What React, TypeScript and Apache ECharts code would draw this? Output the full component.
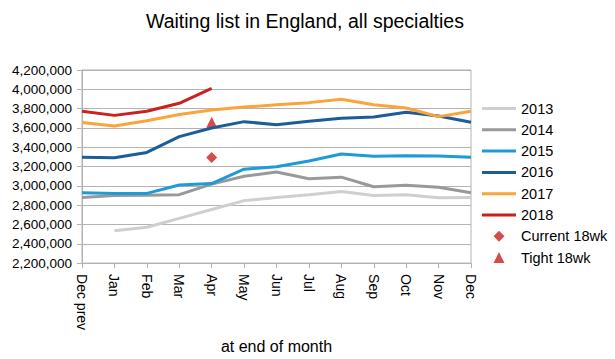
import React, { useEffect, useRef } from "react";
import * as echarts from "echarts";

const categories = ["Dec prev", "Jan", "Feb", "Mar", "Apr", "May", "Jun", "Jul", "Aug", "Sep", "Oct", "Nov", "Dec"];

const y2013 = [null, 2535000, 2571000, 2663000, 2755000, 2847000, 2880000, 2909000, 2942000, 2900000, 2909000, 2876000, 2880000];
const y2014 = [2880000, 2900000, 2903000, 2909000, 3018000, 3100000, 3143000, 3074000, 3090000, 2991000, 3005000, 2985000, 2929000];
const y2015 = [2929000, 2922000, 2922000, 3008000, 3024000, 3172000, 3198000, 3257000, 3330000, 3307000, 3313000, 3310000, 3297000];
const y2016 = [3297000, 3290000, 3346000, 3510000, 3599000, 3665000, 3632000, 3668000, 3701000, 3714000, 3763000, 3724000, 3658000];
const y2017 = [3655000, 3619000, 3675000, 3740000, 3786000, 3816000, 3839000, 3862000, 3898000, 3839000, 3806000, 3717000, 3773000];
const y2018 = [3773000, 3730000, 3773000, 3855000, 4010000, null, null, null, null, null, null, null, null];
const current18wk = [null, null, null, null, 3294000, null, null, null, null, null, null, null, null];
const tight18wk = [null, null, null, null, 3658000, null, null, null, null, null, null, null, null];

const yearNames = ["2013", "2014", "2015", "2016", "2017", "2018"];
const yearData = [y2013, y2014, y2015, y2016, y2017, y2018];
const yearColors = ["#cfcfcf", "#999999", "#1e9ad6", "#1c5d98", "#f9a53b", "#c9211e"];
const markerColor = "#c9211e";

const FONT = "'Liberation Sans', Arial, Helvetica, sans-serif";
const LINE_ICON = "path://M0,0 L34,0 L34,3 L0,3 Z";
const DIAMOND_ICON = "path://M5,0 L10,5 L5,10 L0,5 Z";
const TRIANGLE_ICON = "path://M5,0 L10,10 L0,10 Z";

export default function App() {
  const ref = useRef<HTMLDivElement>(null);
  useEffect(() => {
    document.body.style.margin = "0";
    if (!ref.current) return;
    const chart = echarts.init(ref.current, null, { renderer: "svg" });
    const lineSeries = yearNames.map((name, i) => ({
      name,
      type: "line",
      data: yearData[i],
      symbol: "none",
      lineStyle: { width: 3, color: yearColors[i] },
      itemStyle: { color: yearColors[i] },
      connectNulls: false,
    }));
    chart.setOption({
      animation: false,
      backgroundColor: "#ffffff",
      title: {
        text: "Waiting list in England, all specialties",
        left: 146,
        top: 11,
        padding: 0,
        textStyle: { fontFamily: FONT, fontSize: 19.5, fontWeight: "normal", color: "#000" },
      },
      legend: {
        orient: "vertical",
        left: 482,
        top: 101,
        padding: 0,
        itemWidth: 34,
        itemHeight: 11,
        itemGap: 6.3,
        symbolKeepAspect: true,
        textStyle: { fontFamily: FONT, fontSize: 14.5, color: "#000" },
        data: [
          ...yearNames.map((n) => ({ name: n, icon: LINE_ICON })),
          { name: "Current 18wk", icon: DIAMOND_ICON },
          { name: "Tight 18wk", icon: TRIANGLE_ICON },
        ],
      },
      grid: {
        left: 82,
        right: 144,
        top: 70,
        bottom: 86,
        show: true,
        borderColor: "#b3b3b3",
        borderWidth: 1,
      },
      xAxis: {
        type: "category",
        data: categories,
        boundaryGap: false,
        axisLine: { show: true, lineStyle: { color: "#b3b3b3", width: 1 } },
        axisTick: { show: true, length: 5, lineStyle: { color: "#b3b3b3" } },
        axisLabel: { rotate: -90, fontFamily: FONT, fontSize: 14, color: "#000", margin: 11, interval: 0 },
        name: "at end of month",
        nameLocation: "middle",
        nameGap: 56,
        nameTextStyle: { fontFamily: FONT, fontSize: 16, color: "#000" },
      },
      yAxis: {
        type: "value",
        min: 2200000,
        max: 4200000,
        interval: 200000,
        axisLine: { show: true, lineStyle: { color: "#b3b3b3", width: 1 } },
        axisTick: { show: true, length: 5, lineStyle: { color: "#b3b3b3" } },
        splitLine: { show: true, lineStyle: { color: "#b3b3b3", width: 1 } },
        axisLabel: {
          fontFamily: FONT,
          fontSize: 13.5,
          color: "#000",
          margin: 10,
          formatter: (v: number) => v.toLocaleString("en-US"),
        },
      },
      series: [
        ...lineSeries,
        {
          name: "Current 18wk",
          type: "scatter",
          data: current18wk,
          symbol: "diamond",
          symbolSize: 11,
          itemStyle: { color: markerColor },
        },
        {
          name: "Tight 18wk",
          type: "scatter",
          data: tight18wk,
          symbol: "triangle",
          symbolSize: 11,
          itemStyle: { color: markerColor },
        },
      ],
    });
    return () => chart.dispose();
  }, []);
  return <div ref={ref} style={{ width: 615, height: 359 }} />;
}
